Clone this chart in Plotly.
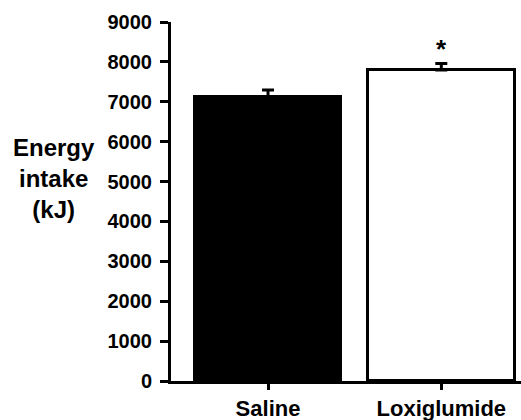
import plotly.graph_objects as go

categories = ["Saline", "Loxiglumide"]
means = [7125, 7795]
sems = [170, 165]
bar_colors = ["black", "white"]
y_ticks = [0, 1000, 2000, 3000, 4000, 5000, 6000, 7000, 8000, 9000]
significance = ["", "*"]

FONT = "Liberation Sans, Arial, sans-serif"

fig = go.Figure()
fig.add_trace(go.Bar(
    x=categories, y=means,
    width=0.845,
    marker=dict(color=bar_colors, line=dict(color="black", width=3)),
    error_y=dict(type="data", array=sems, arrayminus=[0, 0], symmetric=False,
                 color="black", thickness=3, width=6),
    showlegend=False,
))

for cat, m, s, sig in zip(categories, means, sems, significance):
    if sig:
        fig.add_annotation(x=cat, y=m + s, text=sig, showarrow=False,
                           yanchor="bottom", yshift=-3,
                           font=dict(family=FONT, size=26, color="black", weight="bold"))

fig.add_annotation(xref="paper", yref="paper", x=-0.334, y=0.565,
                   text="Energy<br>intake<br>(kJ)", showarrow=False,
                   align="center", xanchor="center", yanchor="middle",
                   font=dict(family=FONT, size=24, color="black", weight="bold"))

fig.update_layout(
    width=521, height=420,
    margin=dict(l=171, r=0, t=22, b=39),
    paper_bgcolor="white", plot_bgcolor="white",
    bargap=0,
    xaxis=dict(range=[-0.56, 1.46], showline=True, linecolor="black", linewidth=3,
               ticks="outside", ticklen=6, tickwidth=3, tickcolor="black",
               showgrid=False, zeroline=False,
               tickfont=dict(family=FONT, size=22, color="black", weight="bold")),
    yaxis=dict(range=[0, 9000], tickvals=y_ticks, showline=True, linecolor="black", linewidth=3,
               ticks="outside", ticklen=8, tickwidth=3, tickcolor="black",
               ticklabelstandoff=4,
               showgrid=False, zeroline=False,
               tickfont=dict(family=FONT, size=20, color="black", weight="bold")),
)

fig.write_html("out.html")
